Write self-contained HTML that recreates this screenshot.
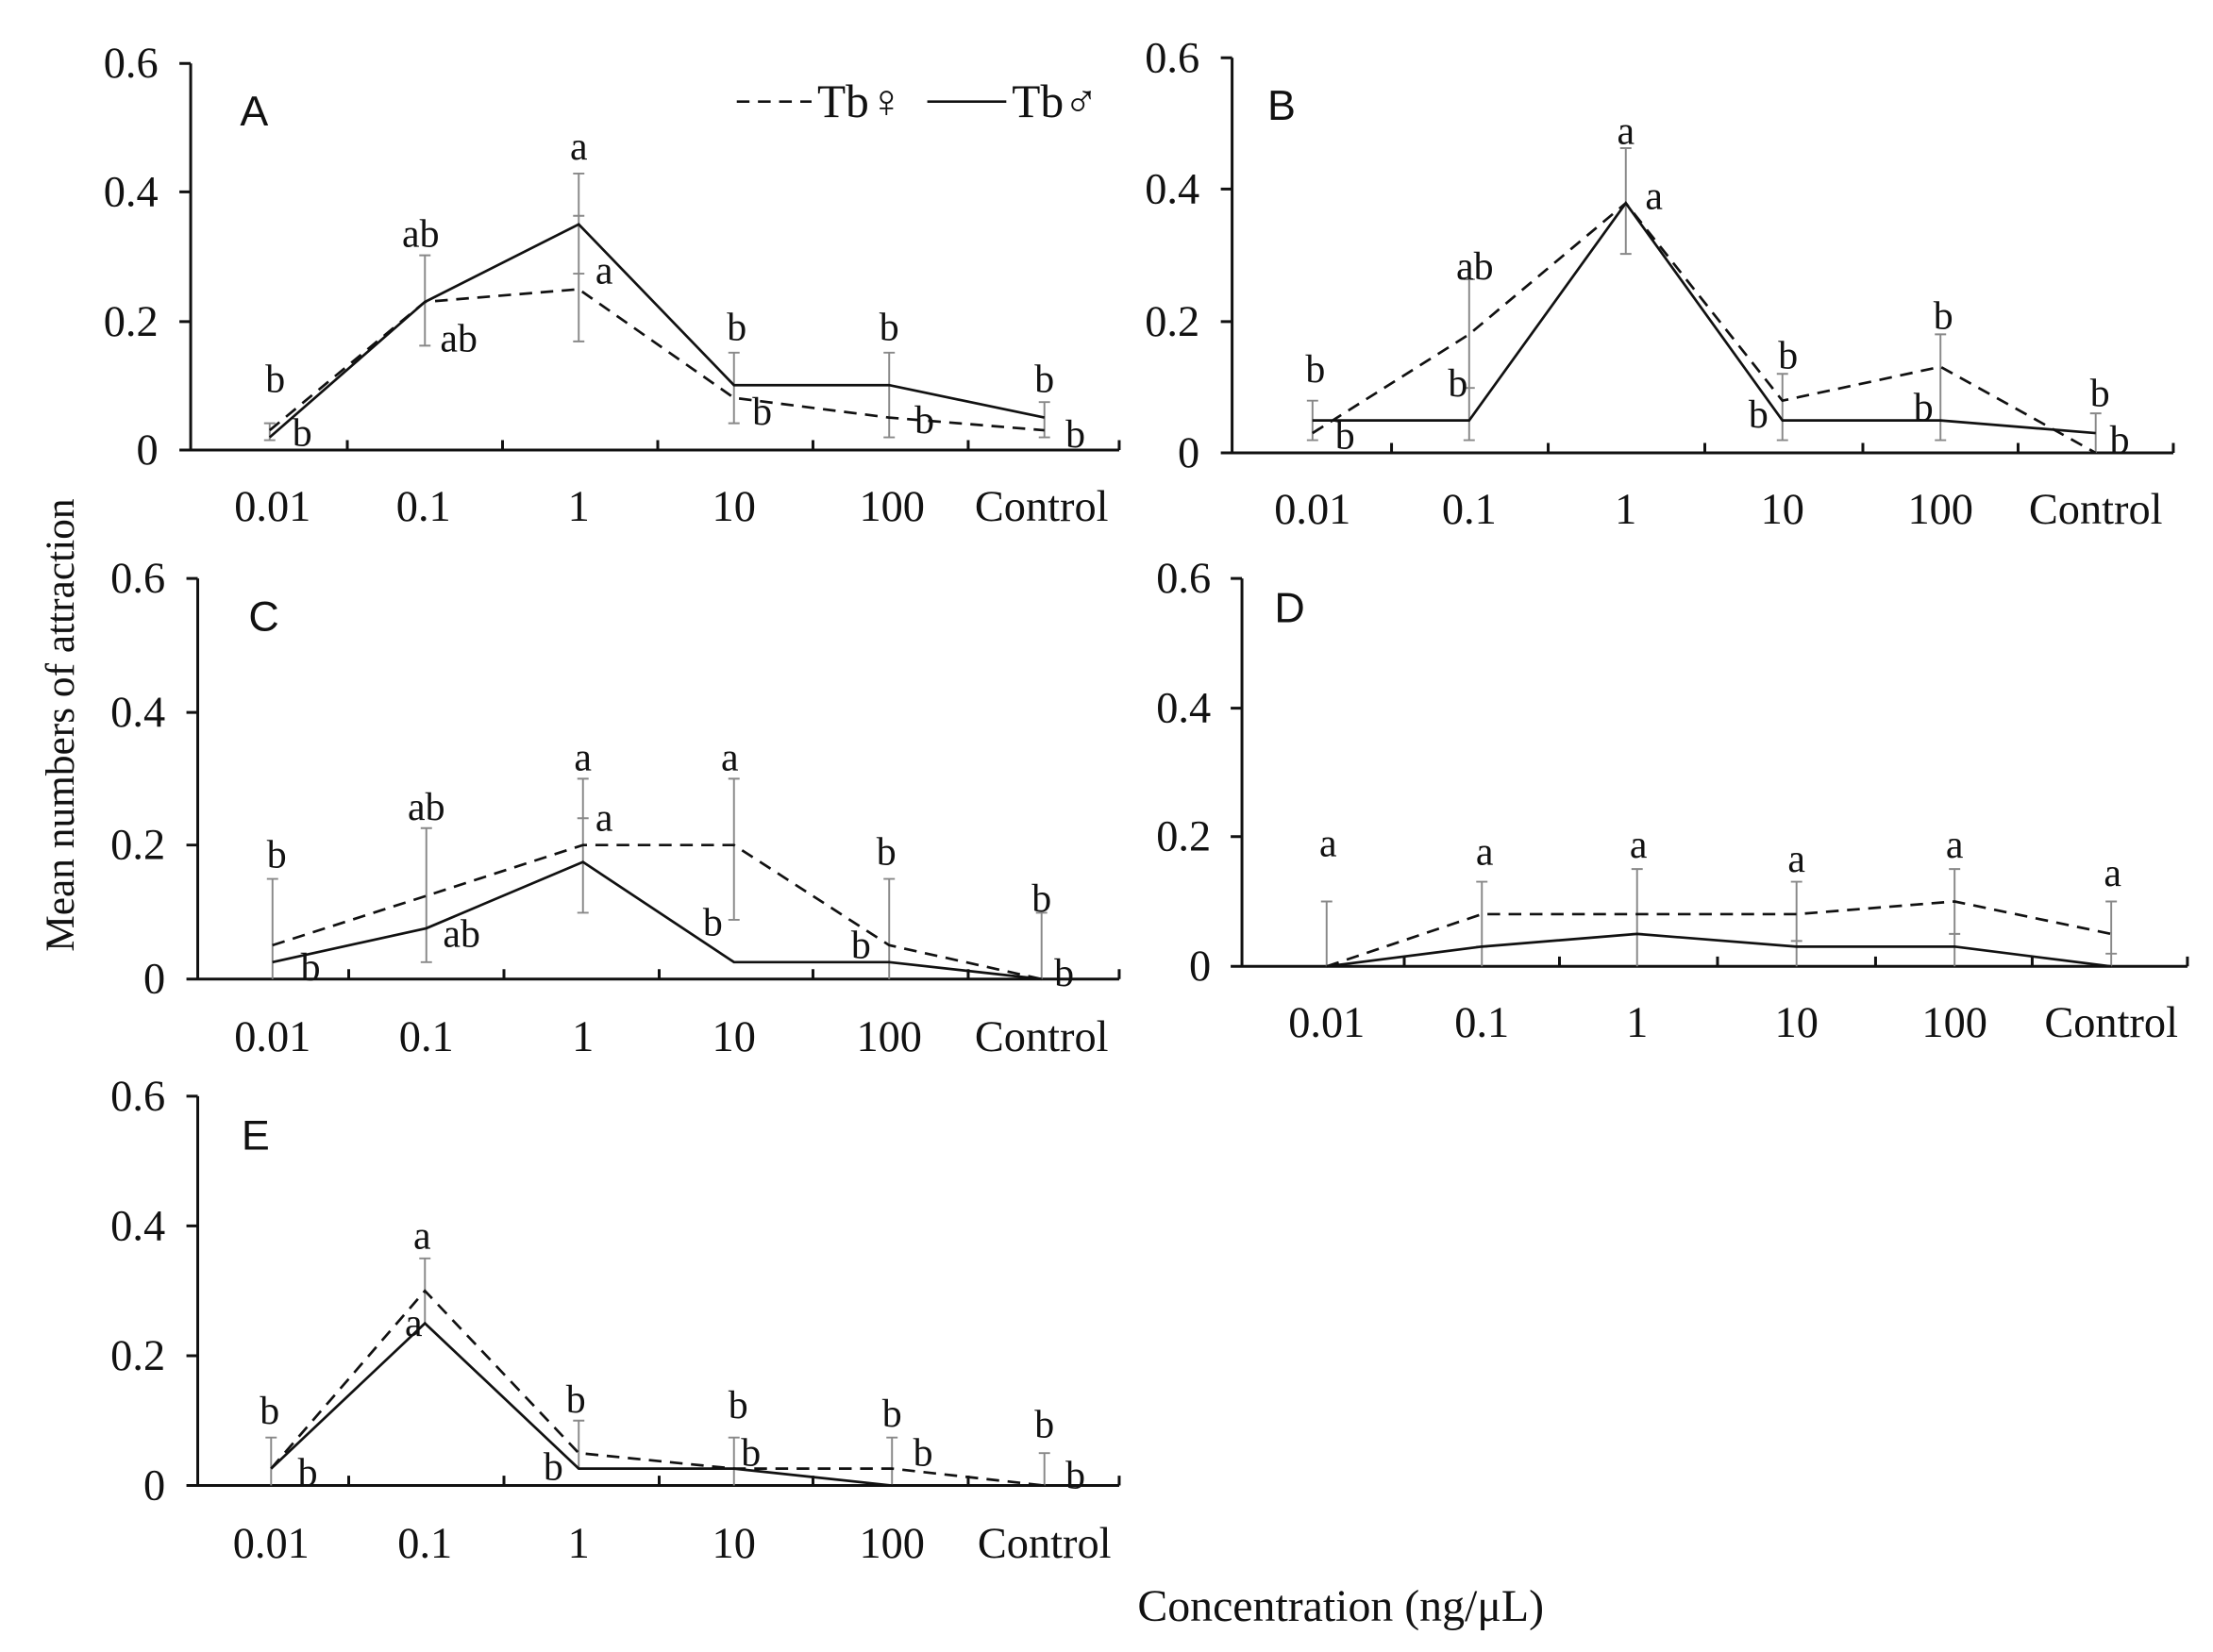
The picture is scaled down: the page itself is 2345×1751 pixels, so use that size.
<!DOCTYPE html>
<html><head><meta charset="utf-8"><style>html,body{margin:0;padding:0;background:#fff}svg{display:block}
text{font-family:"Liberation Serif",serif;fill:#111}
.t{font-size:31px}.l{font-size:28px}.p{font-family:"Liberation Sans",sans-serif;font-size:30px}
.ax{stroke:#111;stroke-width:2;fill:none}.s{stroke:#111;stroke-width:1.8;fill:none}.d{stroke:#111;stroke-width:1.8;fill:none;stroke-dasharray:9,6}.e{stroke:#888;stroke-width:1.3;fill:none}
</style></head><body>
<svg width="2345" height="1751" viewBox="0 0 1568 1171" xmlns="http://www.w3.org/2000/svg">
<!-- Panel A -->
<path class="ax" d="M135,45V319H793M127,45H135M127,136H135M127,228H135M127,319H135M246,319v-7M356,319v-7M466,319v-7M576,319v-7M686,319v-7M793,319v-7"/>
<g class="t" text-anchor="end"><text x="112" y="55">0.6</text><text x="112" y="146">0.4</text><text x="112" y="238">0.2</text><text x="112" y="329">0</text></g>
<g class="t" text-anchor="middle"><text x="193" y="369">0.01</text><text x="300" y="369">0.1</text><text x="410" y="369">1</text><text x="520" y="369">10</text><text x="632" y="369">100</text><text x="738" y="369">Control</text></g>
<path class="e" d="M191,300v12M301,181v64M410,123v119M520,250v50M630,250v60M740,285v25M187,300h8M187,312h8M297,181h8M297,245h8M406,123h8M406,242h8M406,153h8M406,194h8M516,250h8M516,300h8M626,250h8M626,310h8M736,285h8M736,310h8"/>
<polyline class="d" points="191,305 301,214 410,205 520,282 630,296 740,305"/>
<polyline class="s" points="191,310 301,214 410,159 520,273 630,273 740,296"/>
<g class="l" text-anchor="middle"><text x="195" y="278">b</text><text x="214" y="316">b</text><text x="298" y="175">ab</text><text x="325" y="249">ab</text><text x="410" y="113">a</text><text x="428" y="201">a</text><text x="522" y="241">b</text><text x="540" y="301">b</text><text x="630" y="241">b</text><text x="655" y="307">b</text><text x="740" y="278">b</text><text x="762" y="317">b</text></g>
<text class="p" x="170" y="89">A</text>
<path class="d" d="M522,72H575"/><text class="t" x="579" y="83" style="font-size:33px">Tb♀</text>
<path class="s" d="M657,72H713"/><text class="t" x="717" y="83" style="font-size:33px">Tb♂</text>
<!-- Panel B -->
<path class="ax" d="M873,41V321H1540M865,41H873M865,134H873M865,228H873M865,321H873M986,321v-7M1097,321v-7M1208,321v-7M1320,321v-7M1430,321v-7M1540,321v-7"/>
<g class="t" text-anchor="end"><text x="850" y="51">0.6</text><text x="850" y="144">0.4</text><text x="850" y="238">0.2</text><text x="850" y="331">0</text></g>
<g class="t" text-anchor="middle"><text x="930" y="371">0.01</text><text x="1041" y="371">0.1</text><text x="1152" y="371">1</text><text x="1263" y="371">10</text><text x="1375" y="371">100</text><text x="1485" y="371">Control</text></g>
<path class="e" d="M930,284v28M1041,198v114M1152,105v75M1263,265v47M1375,237v75M1485,293v28M926,284h8M926,312h8M1037,198h8M1037,312h8M1037,275h8M1148,105h8M1148,180h8M1259,265h8M1259,312h8M1371,237h8M1371,312h8M1481,293h8"/>
<polyline class="d" points="930,307 1041,237 1152,144 1263,284 1375,260 1485,321"/>
<polyline class="s" points="930,298 1041,298 1152,144 1263,298 1375,298 1485,307"/>
<g class="l" text-anchor="middle"><text x="932" y="271">b</text><text x="953" y="318">b</text><text x="1045" y="198">ab</text><text x="1033" y="281">b</text><text x="1152" y="102">a</text><text x="1172" y="148">a</text><text x="1267" y="261">b</text><text x="1246" y="303">b</text><text x="1377" y="233">b</text><text x="1363" y="298">b</text><text x="1488" y="288">b</text><text x="1502" y="321">b</text></g>
<text class="p" x="898" y="85">B</text>
<!-- Panel C -->
<path class="ax" d="M140,410V694H793M132,410H140M132,505H140M132,599H140M132,694H140M247,694v-7M357,694v-7M467,694v-7M576,694v-7M686,694v-7M793,694v-7"/>
<g class="t" text-anchor="end"><text x="117" y="420">0.6</text><text x="117" y="515">0.4</text><text x="117" y="609">0.2</text><text x="117" y="704">0</text></g>
<g class="t" text-anchor="middle"><text x="193" y="745">0.01</text><text x="302" y="745">0.1</text><text x="413" y="745">1</text><text x="520" y="745">10</text><text x="630" y="745">100</text><text x="738" y="745">Control</text></g>
<path class="e" d="M193,623v71M302,587v95M413,552v95M520,552v100M630,623v71M738,647v47M189,623h8M298,587h8M298,682h8M409,552h8M409,647h8M409,580h8M516,552h8M516,652h8M626,623h8M734,647h8"/>
<polyline class="d" points="193,670 302,635 413,599 520,599 630,670 738,694"/>
<polyline class="s" points="193,682 302,658 413,611 520,682 630,682 738,694"/>
<g class="l" text-anchor="middle"><text x="196" y="615">b</text><text x="220" y="695">b</text><text x="302" y="581">ab</text><text x="327" y="671">ab</text><text x="413" y="546">a</text><text x="428" y="589">a</text><text x="517" y="546">a</text><text x="505" y="663">b</text><text x="628" y="613">b</text><text x="610" y="679">b</text><text x="738" y="646">b</text><text x="754" y="699">b</text></g>
<text class="p" x="176" y="447">C</text>
<!-- Panel D -->
<path class="ax" d="M880,410V685H1550M872,410H880M872,502H880M872,593H880M872,685H880M995,685v-7M1105,685v-7M1217,685v-7M1329,685v-7M1440,685v-7M1550,685v-7"/>
<g class="t" text-anchor="end"><text x="858" y="420">0.6</text><text x="858" y="512">0.4</text><text x="858" y="603">0.2</text><text x="858" y="695">0</text></g>
<g class="t" text-anchor="middle"><text x="940" y="735">0.01</text><text x="1050" y="735">0.1</text><text x="1160" y="735">1</text><text x="1273" y="735">10</text><text x="1385" y="735">100</text><text x="1496" y="735">Control</text></g>
<path class="e" d="M940,639v46M1050,625v60M1160,616v69M1273,625v60M1385,616v69M1496,639v46M936,639h8M1046,625h8M1046,671h8M1156,616h8M1156,662h8M1269,625h8M1269,667h8M1381,616h8M1381,662h8M1492,639h8M1492,676h8"/>
<polyline class="d" points="940,685 1050,648 1160,648 1273,648 1385,639 1496,662"/>
<polyline class="s" points="940,685 1050,671 1160,662 1273,671 1385,671 1496,685"/>
<g class="l" text-anchor="middle"><text x="941" y="607">a</text><text x="1052" y="613">a</text><text x="1161" y="608">a</text><text x="1273" y="618">a</text><text x="1385" y="608">a</text><text x="1497" y="628">a</text></g>
<text class="p" x="903" y="441">D</text>
<!-- Panel E -->
<path class="ax" d="M140,777V1053H793M132,777H140M132,869H140M132,961H140M132,1053H140M247,1053v-7M357,1053v-7M467,1053v-7M576,1053v-7M686,1053v-7M793,1053v-7"/>
<g class="t" text-anchor="end"><text x="117" y="787">0.6</text><text x="117" y="879">0.4</text><text x="117" y="971">0.2</text><text x="117" y="1063">0</text></g>
<g class="t" text-anchor="middle"><text x="192" y="1104">0.01</text><text x="301" y="1104">0.1</text><text x="410" y="1104">1</text><text x="520" y="1104">10</text><text x="632" y="1104">100</text><text x="740" y="1104">Control</text></g>
<path class="e" d="M192,1019v34M301,892v46M410,1007v34M520,1019v34M632,1019v34M740,1030v23M188,1019h8M297,892h8M406,1007h8M516,1019h8M628,1019h8M736,1030h8"/>
<polyline class="d" points="192,1041 301,915 410,1030 520,1041 632,1041 740,1053"/>
<polyline class="s" points="192,1041 301,938 410,1041 520,1041 632,1053 740,1053"/>
<g class="l" text-anchor="middle"><text x="191" y="1009">b</text><text x="218" y="1053">b</text><text x="299" y="885">a</text><text x="293" y="947">a</text><text x="408" y="1001">b</text><text x="392" y="1049">b</text><text x="523" y="1005">b</text><text x="532" y="1039">b</text><text x="632" y="1011">b</text><text x="654" y="1039">b</text><text x="740" y="1019">b</text><text x="762" y="1055">b</text></g>
<text class="p" x="171" y="815">E</text>
<!-- axis titles -->
<text transform="translate(52,514) rotate(-90)" text-anchor="middle" style="font-size:29px">Mean numbers of attraction</text>
<text x="950" y="1149" text-anchor="middle" style="font-size:32px">Concentration (ng/μL)</text>
</svg>
</body></html>
